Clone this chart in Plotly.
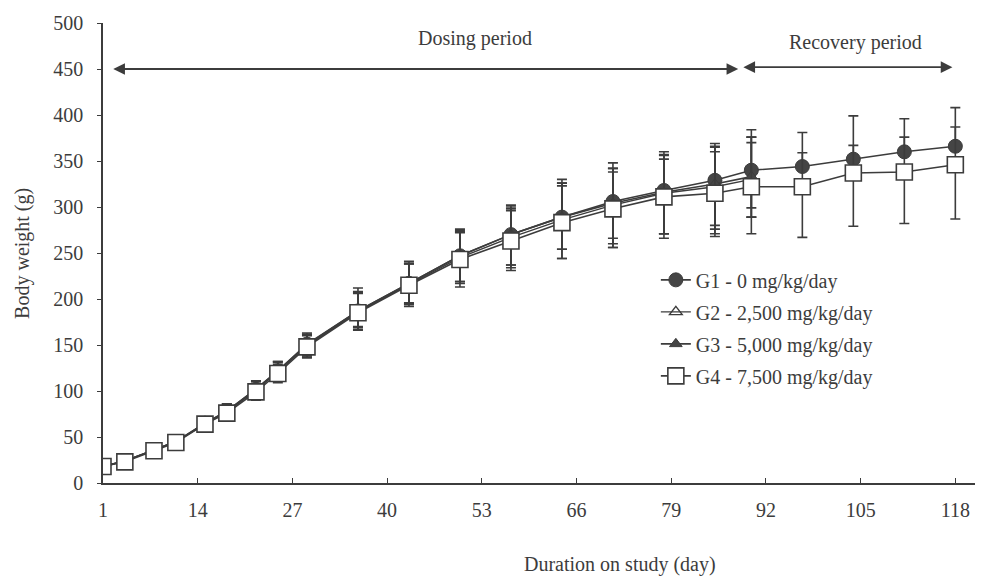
import plotly.graph_objects as go

# ---------------- data ----------------
days_dosing = [1, 4, 8, 11, 15, 18, 22, 25, 29, 36, 43, 50, 57, 64, 71, 78, 85, 90]
days_recovery = [97, 104, 111, 118]
days_all = days_dosing + days_recovery

g1_mean = [18, 24, 36, 45, 65, 78, 102, 122, 151, 187, 217, 247, 270, 289, 306, 318, 329, 340, 344, 352, 360, 366]
g1_up   = [2, 3, 4, 5, 7, 8, 9, 10, 12, 25, 24, 29, 32, 41, 42, 42, 40, 44, 37, 47, 36, 42]
g1_dn   = [2, 3, 4, 5, 7, 8, 9, 10, 12, 20, 22, 28, 33, 35, 40, 47, 49, 41, 0, 0, 0, 0]

g2_mean = [18, 24, 36, 45, 64, 77, 101, 121, 149, 186, 216, 245, 267, 286, 302, 315, 322, 330]
g2_up   = [2, 3, 4, 5, 7, 8, 9, 10, 12, 22, 22, 28, 31, 40, 40, 42, 44, 46]
g2_dn   = [2, 3, 4, 5, 7, 8, 9, 10, 12, 16, 20, 26, 30, 32, 42, 44, 46, 41]

g3_mean = [18, 24, 36, 45, 65, 78, 102, 122, 150, 187, 217, 247, 270, 289, 304, 316, 325, 333]
g3_up   = [2, 3, 4, 5, 7, 8, 9, 10, 12, 20, 22, 27, 30, 37, 38, 40, 40, 43]
g3_dn   = [2, 3, 4, 5, 7, 8, 9, 10, 12, 18, 23, 30, 36, 45, 48, 50, 54, 44]

g4_mean = [18, 23, 35, 44, 64, 76, 99, 119, 148, 185, 215, 243, 263, 283, 298, 311, 315, 322, 322, 337, 338, 346]
g4_up   = [2, 3, 4, 5, 7, 8, 9, 10, 12, 21, 23, 29, 33, 40, 40, 41, 45, 48, 37, 30, 38, 41]
g4_dn   = [2, 3, 4, 5, 7, 8, 9, 10, 12, 19, 23, 30, 32, 39, 42, 40, 47, 51, 55, 58, 56, 59]

group_names = ["G1 - 0 mg/kg/day", "G2 - 2,500 mg/kg/day",
               "G3 - 5,000 mg/kg/day", "G4 - 7,500 mg/kg/day"]

x_tick_vals = [1, 14, 27, 40, 53, 66, 79, 92, 105, 118]
y_tick_vals = [0, 50, 100, 150, 200, 250, 300, 350, 400, 450, 500]

# period arrows (day start, day end, level) and labels
dosing_arrow = [2.2, 88.2, 450]
recovery_arrow = [88.7, 117.6, 452]
dosing_label = ["Dosing period", 52, 483]
recovery_label = ["Recovery period", 104.3, 479]

# ---------------- style ----------------
INK = "#3c3c3c"
FONT = "Liberation Serif"
FS = 20

def err(up, dn):
    return dict(type="data", symmetric=False, array=up, arrayminus=dn,
                color=INK, thickness=1.6, width=5)

fig = go.Figure()

fig.add_trace(go.Scatter(
    x=days_all, y=g1_mean, name=group_names[0], mode="lines+markers",
    line=dict(color=INK, width=1.6),
    marker=dict(symbol="circle", size=14, color="#454545", line=dict(color=INK, width=1)),
    error_y=err(g1_up, g1_dn), legendgroup="g1"))

fig.add_trace(go.Scatter(
    x=days_dosing, y=g2_mean, name=group_names[1], mode="lines+markers",
    line=dict(color=INK, width=1.4),
    marker=dict(symbol="triangle-up-open", size=11, color=INK, line=dict(width=1.4)),
    error_y=err(g2_up, g2_dn), legendgroup="g2"))

fig.add_trace(go.Scatter(
    x=days_dosing, y=g3_mean, name=group_names[2], mode="lines+markers",
    line=dict(color=INK, width=1.6),
    marker=dict(symbol="triangle-up", size=11, color="#454545", line=dict(color=INK, width=1)),
    error_y=err(g3_up, g3_dn), legendgroup="g3"))

fig.add_trace(go.Scatter(
    x=days_all, y=g4_mean, name=group_names[3], mode="lines+markers",
    line=dict(color=INK, width=1.6),
    marker=dict(symbol="square", size=16, color="white", line=dict(color=INK, width=1.6)),
    error_y=err(g4_up, g4_dn), legendgroup="g4"))

# arrows
for a in (dosing_arrow, recovery_arrow):
    fig.add_annotation(x=a[1], y=a[2], ax=a[0], ay=a[2], xref="x", yref="y",
                       axref="x", ayref="y", text="", showarrow=True,
                       arrowhead=2, startarrowhead=2, arrowside="end+start",
                       arrowsize=1.3, startarrowsize=1.3, arrowwidth=1.8,
                       arrowcolor=INK)

for lab in (dosing_label, recovery_label):
    fig.add_annotation(x=lab[1], y=lab[2], xref="x", yref="y", text=lab[0],
                       showarrow=False, font=dict(family=FONT, size=FS, color=INK))

# axis titles
fig.add_annotation(x=0.593, y=-0.178, xref="paper", yref="paper",
                   xanchor="center", yanchor="middle",
                   text="Duration on study (day)", showarrow=False,
                   font=dict(family=FONT, size=FS, color=INK))
fig.add_annotation(x=-0.093, y=0.5, xref="paper", yref="paper",
                   xanchor="center", yanchor="middle",
                   text="Body weight (g)", textangle=-90, showarrow=False,
                   font=dict(family=FONT, size=FS, color=INK))

fig.update_layout(
    width=997, height=580,
    margin=dict(l=103, r=22, t=21, b=97),
    paper_bgcolor="white", plot_bgcolor="white",
    font=dict(family=FONT, size=FS, color=INK),
    showlegend=True,
    legend=dict(x=0.634, y=0.484, xanchor="left", yanchor="top",
                bgcolor="rgba(0,0,0,0)", tracegroupgap=3,
                font=dict(family=FONT, size=FS, color=INK)),
    xaxis=dict(range=[1, 120.7], tickvals=x_tick_vals, ticks="inside", ticklen=5,
               tickcolor=INK, showline=True, linecolor=INK, linewidth=1.6,
               showgrid=False, zeroline=False, tickfont=dict(size=FS),
               ticklabelstandoff=8),
    yaxis=dict(range=[0, 500], tickvals=y_tick_vals, ticks="outside", ticklen=4,
               tickcolor=INK, showline=True, linecolor=INK, linewidth=1.6,
               showgrid=False, zeroline=False, tickfont=dict(size=FS), ticklabelstandoff=10),
)

fig.write_html("out.html")
